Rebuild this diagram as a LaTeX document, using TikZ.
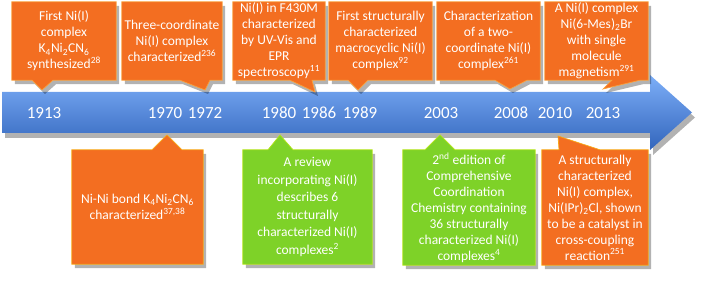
\documentclass[tikz,border=0pt]{standalone}
\usepackage{fontspec}
\setmainfont{Carlito}
\usetikzlibrary{shadows,backgrounds}
\definecolor{orangefill}{RGB}{243,110,33}
\definecolor{orangeedge}{RGB}{250,160,60}
\definecolor{greenfill}{RGB}{126,210,40}
\definecolor{arrowblue}{RGB}{62,126,235}
\definecolor{arrowlight}{RGB}{125,175,248}
\tikzset{
  boxtext/.style={text=white, align=center, inner sep=0pt, font=\fontsize{13.5}{16}\selectfont},
  yearlabel/.style={text=white, inner sep=0pt, font=\fontsize{17}{20}\selectfont},
  callout/.style={line width=0.7pt, drop shadow={shadow xshift=3pt, shadow yshift=-4pt, opacity=0.3, fill=black}}
}
\begin{document}
\begin{tikzpicture}[x=1pt, y=-1pt, line join=round]
\useasboundingbox (0,0) rectangle (702,283);
% events above the time line
\node[boxtext, minimum width=104pt, minimum height=78pt] (t1) at (64,41) {First Ni(I)\\complex\\K\textsubscript{4}Ni\textsubscript{2}CN\textsubscript{6}\\synthesized\textsuperscript{28}};
\node[boxtext, minimum width=100pt, minimum height=78pt] (t2) at (172,41) {Three-coordinate\\Ni(I) complex\\characterized\textsuperscript{236}};
\node[boxtext, minimum width=92pt, minimum height=78pt] (t3) at (279,41) {Ni(I) in F430M\\characterized\\by UV-Vis and\\EPR\\spectroscopy\textsuperscript{11}};
\node[boxtext, minimum width=103pt, minimum height=78pt] (t4) at (380.5,41) {First structurally\\characterized\\macrocyclic Ni(I)\\complex\textsuperscript{92}};
\node[boxtext, minimum width=103pt, minimum height=78pt] (t5) at (488.5,41) {Characterization\\of a two-\\coordinate Ni(I)\\complex\textsuperscript{261}};
\node[boxtext, minimum width=103pt, minimum height=78pt] (t6) at (596.5,41) {A Ni(I) complex\\Ni(6-Mes)\textsubscript{2}Br\\with single\\molecule\\magnetism\textsuperscript{291}};
% events below the time line
\node[boxtext, minimum width=131pt, minimum height=114pt] (b1) at (137.5,207) {Ni-Ni bond K\textsubscript{4}Ni\textsubscript{2}CN\textsubscript{6}\\characterized\textsuperscript{37,38}};
\node[boxtext, minimum width=129pt, minimum height=114pt, font=\fontsize{13.5}{17.5}\selectfont] (b2) at (307.5,207) {A review\\incorporating Ni(I)\\describes 6\\structurally\\characterized Ni(I)\\complexes\textsuperscript{2}};
\node[boxtext, minimum width=132pt, minimum height=115pt] (b3) at (469,207.5) {2\textsuperscript{nd} edition of\\Comprehensive\\Coordination\\Chemistry containing\\36 structurally\\characterized Ni(I)\\complexes\textsuperscript{4}};
\node[boxtext, minimum width=106pt, minimum height=115pt] (b4) at (595,207.5) {A structurally\\characterized\\Ni(I) complex,\\Ni(IPr)\textsubscript{2}Cl, shown\\to be a catalyst in\\cross-coupling\\reaction\textsuperscript{251}};
% years
\foreach \yr/\x in {1913/44, 1970/165, 1972/205, 1980/279, 1986/319, 1989/360, 2003/441, 2008/511, 2010/555, 2013/603}
  \node[yearlabel] (y\yr) at (\x,113) {\yr};
% pointer tips
\coordinate (t1-tip) at (42,90);
\coordinate (t2-tip) at (205,90);
\coordinate (t3-tip) at (315,92);
\coordinate (t4-tip) at (358,90);
\coordinate (t5-tip) at (510,89);
\coordinate (t6-tip) at (603,89);
\coordinate (b1-tip) at (167,135);
\coordinate (b2-tip) at (280,135);
\coordinate (b3-tip) at (440,135);
\coordinate (b4-tip) at (558,136);
\begin{pgfonlayer}{background}
  % time line arrow
  \shade[top color=arrowlight, middle color=arrowblue, bottom color=arrowblue!80!black,
    drop shadow={shadow xshift=3pt, shadow yshift=-5pt, opacity=0.3, fill=black}]
    (2,92) -- (650,92) -- (650,75) -- (692,112.5) -- (650,150) -- (650,133) -- (2,133) -- cycle;
  \foreach \n/\a/\b in {t1/32/53, t2/180/210, t3/290/312, t4/348/368, t5/495/527, t6/612/640}
    \path[callout, fill=orangefill, draw=orangeedge] (\n.north west) -- (\n.north east) -- (\n.south east)
      -- (\n.south -| \b,0) -- (\n-tip) -- (\n.south -| \a,0) -- (\n.south west) -- cycle;
  \foreach \n/\a/\b/\c in {b1/152/182/orangefill, b2/268/293/greenfill, b3/425/455/greenfill, b4/559/600/orangefill}
    \path[callout, fill=\c, draw=\c!60!yellow] (\n.south west) -- (\n.south east) -- (\n.north east)
      -- (\n.north -| \b,0) -- (\n-tip) -- (\n.north -| \a,0) -- (\n.north west) -- cycle;
\end{pgfonlayer}
\end{tikzpicture}
\end{document}
